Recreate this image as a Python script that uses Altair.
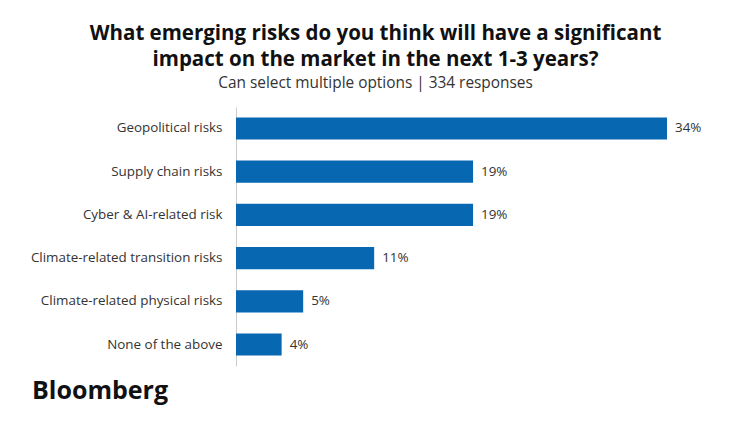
import altair as alt
import pandas as pd

categories = [
    "Geopolitical risks",
    "Supply chain risks",
    "Cyber & AI-related risk",
    "Climate-related transition risks",
    "Climate-related physical risks",
    "None of the above",
]
values = [34.0, 18.7, 18.7, 10.9, 5.3, 3.6]
value_labels = ["34%", "19%", "19%", "11%", "5%", "4%"]

title_lines = [
    "What emerging risks do you think will have a significant",
    "impact on the market in the next 1-3 years?",
]
subtitle_text = "Can select multiple options | 334 responses"
brand = "Bloomberg"

df = pd.DataFrame({"category": categories, "value": values, "label": value_labels})

FONT = "Open Sans"
W, H = 431, 259
PAD = {"left": 236, "top": 107, "right": 748 - 236 - W, "bottom": 423 - 107 - H}

y_enc = alt.Y(
    "category:N",
    sort=categories,
    title=None,
    scale=alt.Scale(paddingInner=0.49, paddingOuter=0.24),
    axis=alt.Axis(
        ticks=False,
        domain=True,
        domainColor="#cccccc",
        domainWidth=1,
        labelFont=FONT,
        labelFontSize=13.4,
        labelColor="#333333",
        labelPadding=14,
        labelLimit=300,
    ),
)
x_enc = alt.X(
    "value:Q",
    scale=alt.Scale(domain=[0, 34], nice=False),
    axis=None,
)

bars = alt.Chart(df).mark_bar(color="#0767b0").encode(x=x_enc, y=y_enc)

labels = alt.Chart(df).mark_text(
    align="left", baseline="middle", dx=8, font=FONT, fontSize=13.4, color="#333333"
).encode(x=x_enc, y=alt.Y("category:N", sort=categories), text="label:N")

logo = alt.Chart(pd.DataFrame({"t": [brand]})).mark_text(
    align="left", baseline="alphabetic", font=FONT, fontSize=25, fontWeight="bold", color="#111111"
).encode(x=alt.value(-204), y=alt.value(292), text="t:N")

chart = (
    alt.layer(bars, labels, logo)
    .properties(
        width=W,
        height=H,
        padding=PAD,
        autosize=alt.AutoSizeParams(type="none"),
        title=alt.TitleParams(
            text=title_lines,
            subtitle=subtitle_text,
            anchor="middle",
            dx=-76,
            font=FONT,
            fontSize=20.5,
            fontWeight="bold",
            color="#111111",
            lineHeight=26,
            subtitleFont=FONT,
            subtitleFontSize=15.4,
            subtitleColor="#333333",
            subtitlePadding=5,
            offset=16,
        ),
    )
    .configure_view(stroke=None)
)

chart.save("out.html", embed_options={"renderer": "svg", "actions": False})
